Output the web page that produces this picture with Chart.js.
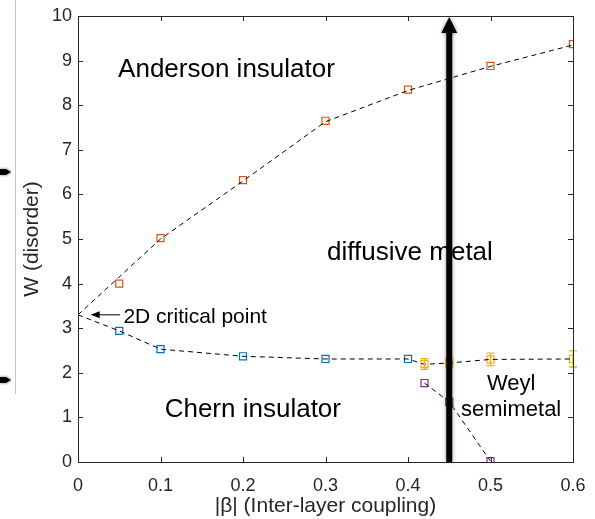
<!DOCTYPE html>
<html>
<head>
<meta charset="utf-8">
<script src="https://cdn.jsdelivr.net/npm/chart.js@4"></script>
<style>
  html, body { margin: 0; padding: 0; background: #fff; }
  #wrap { width: 595px; height: 519px; }
</style>
</head>
<body>
<div id="wrap"><canvas id="phase" width="595" height="519"></canvas></div>
<script>
// --- data ---
const xTicks = [0, 0.1, 0.2, 0.3, 0.4, 0.5, 0.6];
const xTickLabels = ['0', '0.1', '0.2', '0.3', '0.4', '0.5', '0.6'];
const yTicks = [0, 1, 2, 3, 4, 5, 6, 7, 8, 9, 10];
const yTickLabels = ['0', '1', '2', '3', '4', '5', '6', '7', '8', '9', '10'];

// Anderson transition (orange squares)
const betaAnderson = [0.05, 0.1, 0.2, 0.3, 0.4, 0.5, 0.6];
const wAnderson = [4.0, 5.02, 6.32, 7.65, 8.35, 8.88, 9.37];
// Chern transition (blue squares)
const betaChern = [0.05, 0.1, 0.2, 0.3, 0.4];
const wChern = [2.94, 2.53, 2.37, 2.31, 2.31];
// metal / Weyl boundary (yellow squares with error bars)
const betaMetal = [0.42, 0.45, 0.5, 0.6];
const wMetal = [2.2, 2.23, 2.3, 2.31];
const wMetalErr = [0.12, 0.11, 0.14, 0.18];
// Weyl / Chern boundary (purple squares)
const betaWeyl = [0.42, 0.45, 0.5];
const wWeyl = [1.77, 1.35, 0.02];

// dashed guide lines
const betaUpperGuide = [0, 0.05, 0.1, 0.2, 0.3, 0.4, 0.5, 0.6];
const wUpperGuide = [3.3, 4.15, 5.0, 6.3, 7.63, 8.33, 8.87, 9.35];
const betaLowerGuide = [0, 0.05, 0.1, 0.2, 0.3, 0.4, 0.42, 0.45, 0.5, 0.6];
const wLowerGuide = [3.3, 2.94, 2.53, 2.37, 2.31, 2.31, 2.19, 2.22, 2.3, 2.31];

const FONT = '"Liberation Sans", Arial, sans-serif';
const AXIS = '#262626';

function pts(xs, ys) {
    return xs.map((x, i) => ({ x: x, y: ys[i] }));
}

function guide(xs, ys) {
    return {
        data: pts(xs, ys),
        showLine: true,
        borderColor: '#000',
        borderWidth: 1,
        borderDash: [5, 4],
        pointRadius: 0,
        fill: false
    };
}

function markers(xs, ys, color) {
    return {
        data: pts(xs, ys),
        showLine: false,
        pointStyle: 'rect',
        pointRadius: 5,
        pointBorderWidth: 1.2,
        pointBorderColor: color,
        pointBackgroundColor: 'rgba(0,0,0,0)'
    };
}

// annotation, error bars, big arrow, inner ticks
const decor = {
    id: 'decor',
    beforeDatasetsDraw(chart) {
        const ctx = chart.ctx;
        const xs = chart.scales.x, ys = chart.scales.y;
        const px = v => xs.getPixelForValue(v);
        const py = v => ys.getPixelForValue(v);
        ctx.save();
        ctx.fillStyle = '#000';
        ctx.textBaseline = 'alphabetic';
        ctx.textAlign = 'center';
        ctx.font = '26px ' + FONT;
        ctx.fillText('Anderson insulator', px(0.18), py(8.63));
        ctx.fillText('diffusive metal', px(0.4024), py(4.53));
        ctx.fillText('Chern insulator', px(0.2119), py(1.02));
        ctx.font = '22px ' + FONT;
        ctx.fillText('Weyl', px(0.525), py(1.61));
        ctx.fillText('semimetal', px(0.525), py(1.03));

        // 2D critical point pointer
        ctx.font = '21px ' + FONT;
        ctx.textAlign = 'left';
        ctx.fillText('2D critical point', px(0.055), py(3.11));
        const ay = py(3.3);
        const x0 = px(0.051), x1 = px(0.0154);
        ctx.strokeStyle = '#000';
        ctx.lineWidth = 1;
        ctx.beginPath();
        ctx.moveTo(x0, ay);
        ctx.lineTo(x1 + 4, ay);
        ctx.stroke();
        ctx.beginPath();
        ctx.moveTo(x1, ay);
        ctx.lineTo(x1 + 9, ay - 3.5);
        ctx.lineTo(x1 + 9, ay + 3.5);
        ctx.closePath();
        ctx.fill();
        ctx.restore();
    },
    afterDatasetsDraw(chart) {
        const ctx = chart.ctx;
        const xs = chart.scales.x, ys = chart.scales.y;
        const px = v => xs.getPixelForValue(v);
        const py = v => ys.getPixelForValue(v);
        const area = chart.chartArea;
        ctx.save();

        // error bars on yellow points
        ctx.strokeStyle = '#EDB120';
        ctx.lineWidth = 1.3;
        betaMetal.forEach((b, i) => {
            const x = px(b);
            const top = py(wMetal[i] + wMetalErr[i]);
            const bot = py(wMetal[i] - wMetalErr[i]);
            ctx.beginPath();
            ctx.moveTo(x, top); ctx.lineTo(x, bot);
            ctx.moveTo(x - 4, top); ctx.lineTo(x + 4, top);
            ctx.moveTo(x - 4, bot); ctx.lineTo(x + 4, bot);
            ctx.stroke();
        });

        // big vertical arrow at |beta| = 0.45
        const ax = px(0.45);
        const tip = py(9.98);
        const base = py(0);
        ctx.fillStyle = '#000';
        ctx.shadowColor = 'rgba(0,0,0,0.4)';
        ctx.shadowBlur = 4;
        ctx.fillRect(ax - 3, tip + 14, 6, base - tip - 14);
        ctx.beginPath();
        ctx.moveTo(ax, tip);
        ctx.lineTo(ax - 8, tip + 16);
        ctx.lineTo(ax + 8, tip + 16);
        ctx.closePath();
        ctx.fill();
        ctx.shadowBlur = 0;
        ctx.shadowColor = 'transparent';

        // box with inward ticks on all four sides
        ctx.strokeStyle = AXIS;
        ctx.lineWidth = 1;
        ctx.strokeRect(Math.round(area.left) + 0.5, Math.round(area.top) + 0.5,
            Math.round(area.right - area.left), Math.round(area.bottom - area.top));
        ctx.beginPath();
        xTicks.forEach(v => {
            const x = Math.round(px(v)) + 0.5;
            ctx.moveTo(x, area.bottom); ctx.lineTo(x, area.bottom - 5);
            ctx.moveTo(x, area.top); ctx.lineTo(x, area.top + 5);
        });
        yTicks.forEach(v => {
            const y = Math.round(py(v)) + 0.5;
            ctx.moveTo(area.left, y); ctx.lineTo(area.left + 5, y);
            ctx.moveTo(area.right, y); ctx.lineTo(area.right - 5, y);
        });
        ctx.stroke();

        // cropped bits at the left edge of the source image
        ctx.strokeStyle = '#c8c8c8';
        ctx.beginPath();
        ctx.moveTo(15.5, 0); ctx.lineTo(15.5, 394);
        ctx.stroke();
        ctx.fillStyle = '#000';
        ctx.shadowColor = 'rgba(0,0,0,0.6)';
        ctx.shadowBlur = 3;
        [172, 380].forEach(y => {
            ctx.beginPath();
            ctx.moveTo(0, y - 3);
            ctx.lineTo(6, y - 3);
            ctx.lineTo(11, y);
            ctx.lineTo(6, y + 3);
            ctx.lineTo(0, y + 3);
            ctx.closePath();
            ctx.fill();
        });
        ctx.restore();
    }
};

new Chart(document.getElementById('phase'), {
    type: 'scatter',
    data: {
        datasets: [
            guide(betaUpperGuide, wUpperGuide),
            guide(betaLowerGuide, wLowerGuide),
            guide(betaWeyl, wWeyl),
            markers(betaAnderson, wAnderson, '#D95319'),
            markers(betaChern, wChern, '#0072BD'),
            markers(betaMetal, wMetal, '#EDB120'),
            markers(betaWeyl, wWeyl, '#7E2F8E')
        ]
    },
    options: {
        responsive: false,
        animation: false,
        layout: { padding: { top: 16, right: 22, left: 0, bottom: 0 } },
        plugins: { legend: { display: false }, tooltip: { enabled: false } },
        scales: {
            x: {
                type: 'linear', min: 0, max: 0.6,
                grid: { display: false, drawTicks: false },
                border: { display: false },
                afterBuildTicks: s => { s.ticks = xTicks.map(v => ({ value: v })); },
                afterFit: s => { s.height = 57; s.paddingLeft = 0; s.paddingRight = 0; },
                ticks: {
                    autoSkip: false, maxRotation: 0, padding: 13,
                    color: AXIS, font: { family: FONT, size: 18 },
                    callback: (v, i) => xTickLabels[i]
                },
                title: {
                    display: true, text: '|β| (Inter-layer coupling)', color: AXIS,
                    font: { family: FONT, size: 21 }, padding: { top: 0, bottom: 0 }
                }
            },
            y: {
                type: 'linear', min: 0, max: 10,
                grid: { display: false, drawTicks: false },
                border: { display: false },
                afterBuildTicks: s => { s.ticks = yTicks.map(v => ({ value: v })); },
                afterFit: s => { s.width = 78; s.paddingTop = 0; s.paddingBottom = 0; },
                ticks: {
                    autoSkip: false, padding: 6,
                    color: AXIS, font: { family: FONT, size: 18 },
                    callback: (v, i) => yTickLabels[i]
                },
                title: {
                    display: true, text: 'W (disorder)', color: AXIS,
                    font: { family: FONT, size: 21 }, padding: { top: 20, bottom: 0 }
                }
            }
        }
    },
    plugins: [decor]
});
</script>
</body>
</html>
